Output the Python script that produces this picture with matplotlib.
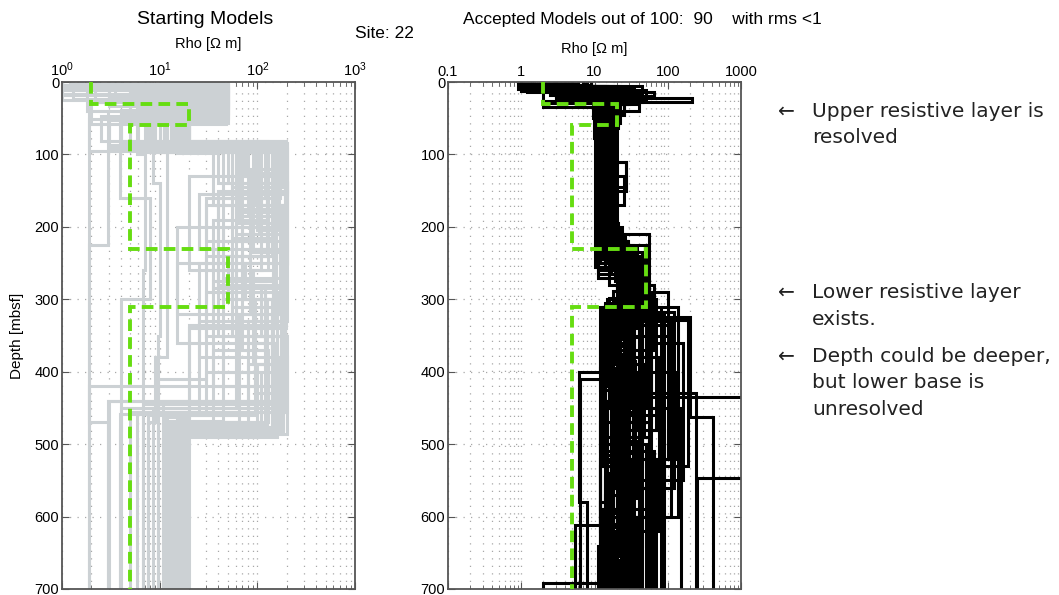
import matplotlib
matplotlib.use('Agg')
import matplotlib.pyplot as plt
from matplotlib.ticker import LogLocator, FixedLocator, FixedFormatter, NullFormatter

### DATA ###

# true model (layer tops in mbsf, resistivity in ohm m)
true_tops = [0, 30, 60, 230, 310]
true_rhos = [2, 20, 5, 50, 5]

# starting models: layer tops and resistivities
start_tops = [
  [0, 4, 45, 88, 150, 280, 470], [0, 11, 52, 92, 210, 330, 455],
  [0, 18, 38, 84, 130, 260, 390, 480], [0, 25, 56, 95, 175, 300, 440],
  [0, 7, 33, 86, 160, 240, 350, 485], [0, 14, 50, 90, 200, 320, 460],
  [0, 22, 41, 98, 140, 230, 370, 470], [0, 5, 47, 82, 190, 285, 420],
  [0, 16, 55, 94, 120, 250, 380, 478], [0, 9, 30, 89, 220, 310, 450],
  [0, 28, 58, 91, 170, 270, 400, 488], [0, 12, 36, 85, 145, 215, 340, 465],
  [0, 3, 44, 96, 260, 350, 455], [0, 20, 53, 83, 180, 300, 430, 482],
  [0, 10, 40, 93, 155, 230, 320, 475], [0, 26, 49, 87, 210, 290, 410],
  [0, 6, 31, 90, 125, 200, 300, 445], [0, 15, 57, 97, 185, 280, 370, 470],
  [0, 8, 42, 84, 135, 250, 360, 490], [0, 23, 46, 92, 170, 330, 460],
  [0, 13, 35, 88, 240, 300, 440], [0, 4, 51, 95, 160, 220, 390, 475],
  [0, 19, 39, 86, 150, 260, 350, 484], [0, 11, 54, 93, 195, 315, 450],
  [0, 27, 43, 81, 130, 210, 340, 468], [0, 8, 37, 90, 175, 275, 420, 480],
  [0, 17, 48, 97, 230, 320, 455], [0, 2, 29, 85, 140, 250, 300, 472],
  [0, 21, 56, 89, 160, 290, 380, 486], [0, 12, 45, 94, 205, 335, 462],
  [0, 6, 34, 82, 120, 240, 360, 476], [0, 24, 52, 91, 185, 270, 400, 458],
  [0, 10, 40, 87, 150, 235, 330, 483], [0, 16, 58, 95, 220, 310, 440],
  [0, 9, 32, 83, 170, 260, 390, 470], [0, 22, 47, 90, 145, 280, 350, 479],
  [0, 28], [0, 40, 225, 470], [0, 55, 160, 300, 480],
  [0, 35, 100, 260, 460], [0, 48, 140, 350], [0, 20, 90, 380, 470],
]
start_rhos = [
  [1.0, 48, 9, 160, 40, 120, 14], [1.0, 30, 18, 70, 185, 25, 12],
  [1.0, 45, 4, 200, 20, 90, 150, 17], [1.0, 35, 12, 110, 60, 190, 3],
  [45, 3, 20, 55, 140, 30, 175, 19], [8, 50, 6, 150, 15, 95, 11],
  [28, 12, 15, 40, 200, 70, 130, 13], [2, 40, 2.5, 125, 35, 180, 1.9],
  [15, 22, 10, 170, 85, 25, 165, 16], [1.5, 50, 5, 45, 155, 60, 4],
  [5, 2, 19, 95, 190, 45, 110, 20], [50, 6, 14, 185, 55, 150, 20, 15],
  [1.2, 25, 8, 130, 40, 200, 5], [3, 48, 17, 60, 145, 95, 175, 18],
  [38, 1.8, 11, 200, 25, 170, 65, 14], [12, 45, 3, 105, 195, 30, 9.6],
  [1.0, 18, 20, 75, 165, 45, 140, 6.7], [25, 50, 7, 190, 70, 120, 35, 12],
  [4, 30, 16, 140, 200, 15, 160, 19.5], [1.3, 42, 13, 35, 180, 80, 7.6],
  [20, 8, 18, 155, 50, 190, 10.8], [1.0, 38, 1.9, 120, 30, 175, 100, 13.5],
  [48, 25, 9, 200, 110, 55, 185, 17.5], [6, 44, 15, 65, 170, 140, 8.5],
  [2.2, 50, 4, 180, 60, 195, 45, 12.5], [30, 15, 19, 90, 150, 35, 170, 16.5],
  [1.0, 35, 10, 140, 85, 190, 5.8], [10, 45, 12, 50, 200, 75, 125, 14.5],
  [3.5, 28, 20, 170, 40, 160, 200, 18.5], [42, 5, 8, 100, 185, 20, 11.5],
  [1.6, 50, 17, 195, 125, 60, 150, 15.5], [18, 32, 3, 80, 175, 190, 30, 3.9],
  [50, 20, 14, 165, 90, 200, 140, 19], [7, 48, 11, 125, 55, 180, 2.95],
  [1.0, 40, 18, 190, 30, 145, 80, 13], [35, 10, 20, 60, 195, 110, 185, 16],
  [45, 1.9], [20, 2.95, 1.9, 2.95], [30, 3.9, 8, 4, 3.9],
  [12, 5.8, 7, 6.7, 6.7], [50, 8.5, 10, 9.6], [3, 7.6, 12, 9, 7.6],
]

# accepted models (rms < 1)
acc_tops = [
  [0, 8, 24, 58, 215, 300, 470], [0, 5, 14, 19, 32, 120, 260, 330, 520],
  [0, 10, 22, 27, 62, 230, 310, 600], [0, 6, 20, 45, 250, 320, 560],
  [0, 12, 30, 70, 110, 150, 240, 305, 410], [0, 9, 26, 55, 200, 290, 435, 547],
  [0, 7, 29, 50, 225, 325, 462], [0, 11, 25, 66, 260, 340, 692],
  [0, 4, 18, 40, 205, 300, 480], [0, 10, 28, 60, 130, 170, 265, 330],
  [0, 8, 26, 34, 230, 310, 450], [0, 13, 26, 68, 210, 285, 395, 612],
  [0, 6, 23, 56, 235, 318], [0, 15, 31, 72, 255, 335, 520],
  [0, 9, 27, 61, 140, 270, 330, 590], [0, 11, 22, 64, 218, 295, 430],
  [0, 7, 29, 58, 245, 305, 400, 580], [0, 10, 30, 66, 222, 318, 560],
  [0, 5, 21, 48, 190, 280, 370, 480], [0, 12, 28, 60, 110, 145, 250, 320, 500],
  [0, 8, 25, 53, 200, 300, 420, 640], [0, 14, 33, 78, 240, 310, 460],
  [0, 6, 24, 57, 180, 275, 360, 550], [0, 10, 27, 63, 228, 312, 510],
  [0, 9, 19, 44, 160, 265, 330, 600], [0, 12, 31, 69, 212, 302, 440],
  [0, 7, 22, 50, 250, 328, 530], [0, 11, 29, 62, 195, 288, 380, 620],
  [0, 5, 26, 54, 235, 300, 415], [0, 13, 30, 74, 220, 320, 470, 650],
  [0, 8, 23, 59, 242, 308, 490], [0, 10, 28, 65, 205, 290, 350, 560],
  [0, 6, 25, 51, 260, 336, 600], [0, 12, 27, 67, 215, 296, 400, 520],
  [0, 9, 32, 56, 230, 315, 450], [0, 11, 24, 60, 210, 305, 520, 610],
  [0, 9, 25, 60, 220, 300, 360, 450, 560], [0, 7, 27, 55, 240, 310, 380, 470, 620],
  [0, 11, 29, 64, 200, 290, 340, 430, 530, 640], [0, 6, 22, 50, 230, 305, 400, 500, 600],
  [0, 10, 26, 58, 250, 320, 410, 520], [0, 8, 30, 62, 215, 295, 370, 460, 580],
  [0, 12, 24, 66, 235, 315, 390, 490, 610], [0, 9, 28, 57, 225, 300, 350, 440, 540, 660],
  [0, 7, 23, 52, 245, 325, 420, 510], [0, 11, 27, 60, 210, 290, 360, 470, 590],
  [0, 10, 25, 63, 228, 310, 400, 480, 570], [0, 8, 29, 55, 238, 318, 380, 450, 530, 630],
  [0, 13, 31, 70, 205, 300, 390, 500, 650], [0, 6, 21, 49, 250, 330, 430, 540],
  [0, 9, 26, 59, 220, 305, 370, 460, 560, 660], [0, 12, 28, 67, 232, 312, 420, 530],
  [0, 7, 24, 54, 242, 322, 400, 490, 600], [0, 10, 30, 61, 212, 298, 350, 430, 520, 620],
  [0, 8, 27, 58, 225, 300, 345, 420, 505, 590, 670],
  [0, 10, 25, 62, 240, 315, 375, 445, 525, 615],
  [0, 7, 29, 54, 210, 295, 355, 435, 515, 595, 680],
  [0, 11, 26, 65, 235, 310, 385, 455, 535, 625],
  [0, 9, 24, 59, 220, 305, 365, 425, 495, 575, 655],
  [0, 12, 30, 63, 248, 325, 395, 465, 545, 635],
  [0, 6, 23, 52, 230, 300, 370, 440, 510, 600, 690],
  [0, 10, 28, 61, 215, 292, 352, 432, 512, 592, 672],
]
acc_rhos = [
  [1.0, 3, 15, 13, 22, 40, 25], [4, 9, 64, 20, 12, 18, 30, 55, 20],
  [2, 8, 215, 18, 11, 28, 140, 45], [8, 3, 25, 10.5, 33, 90, 15],
  [1.1, 30, 11, 14, 27, 13, 45, 25, 6.3], [6, 12, 19, 15, 20, 60, 1500, 250],
  [1.5, 20, 9.5, 16, 50, 200, 410], [3, 50, 13, 11, 38, 30, 2],
  [9, 2.5, 40, 12, 20, 70, 35], [0.9, 5, 21, 12, 25, 11, 40, 60],
  [7, 15, 2, 18, 30, 45, 150], [2.8, 35, 16, 12, 55, 20, 12, 5.4],
  [1.8, 10, 14, 13, 33, 17], [4.5, 25, 18, 10.3, 42, 100, 70],
  [1, 6, 12, 15, 11, 28, 55, 13], [3.5, 8, 21, 14, 22, 35, 240],
  [9, 2, 17, 12, 48, 22, 6.1, 8], [1.3, 18, 10, 20, 26, 120, 40],
  [5, 15, 12, 11, 16, 65, 25, 90], [2, 4, 19, 13, 27, 12, 36, 18, 50],
  [7, 30, 15, 17, 24, 15, 45, 11], [1.2, 12, 9.8, 14, 30, 80, 28],
  [3, 45, 20, 12, 19, 55, 160, 35], [6, 6, 13, 18, 38, 22, 65],
  [2.5, 20, 25, 11, 17, 45, 110, 20], [1.0, 10, 14, 15, 26, 30, 15],
  [4, 3, 18, 10.8, 35, 190, 55], [8, 25, 11, 13, 21, 18, 75, 30],
  [1.4, 8, 16, 19, 45, 35, 14], [2.2, 40, 12, 11, 29, 60, 25, 40],
  [5, 14, 20, 16, 40, 14, 45], [1.6, 4, 10.5, 12, 23, 100, 30, 60],
  [3.2, 22, 19, 14, 52, 40, 12], [7, 9, 13, 17, 24, 25, 130, 18],
  [2.6, 16, 22, 12, 35, 50, 80], [1.1, 28, 14, 15, 21, 28, 20, 16],
  [2, 10, 14, 13, 28, 18, 32, 15, 24], [3, 22, 11, 15, 36, 13, 22, 40, 19],
  [1.4, 8, 17, 12, 21, 26, 16, 30, 12, 20], [5, 18, 15, 11, 30, 35, 14, 26, 38],
  [2.4, 12, 20, 14, 44, 21, 12.5, 33], [1.2, 28, 13, 16, 25, 42, 27, 17, 12],
  [6, 5, 18, 12, 32, 19, 48, 23, 28], [3.8, 15, 12, 17, 34, 24, 13, 36, 16, 22],
  [1.7, 35, 16, 13, 40, 15, 29, 18], [4.2, 9, 19, 11, 24, 33, 18, 12, 26],
  [2.9, 20, 11.5, 15, 29, 12, 38, 21, 14], [5.5, 6, 14, 13, 37, 28, 16, 45, 27, 17],
  [1.9, 14, 12, 16, 23, 50, 22, 14, 31], [7.5, 26, 21, 12, 46, 17, 34, 24],
  [2.1, 11, 16, 14, 27, 14, 25, 19, 42, 15], [3.3, 45, 13, 11, 31, 22, 13, 28],
  [1.0, 7, 18, 15, 39, 32, 20, 55, 23], [4.8, 16, 10.5, 13, 22, 16, 42, 26, 12, 35],
  [2.3, 13, 15, 12, 30, 22, 15, 19, 28, 16, 21],
  [3.6, 17, 12, 14, 41, 17, 24, 14, 20, 13],
  [1.5, 9, 18, 11, 25, 30, 18, 23, 15, 32, 18],
  [4.4, 24, 14, 16, 33, 15, 36, 18, 24, 14],
  [2.7, 6, 20, 13, 28, 26, 12, 17, 37, 21, 13],
  [1.3, 20, 12, 15, 45, 13, 19, 29, 14, 25],
  [5.2, 14, 17, 12, 35, 19, 27, 12, 22, 18, 27],
  [2.0, 32, 11, 14, 23, 40, 21, 34, 17, 29, 15],
]

max_depth = 700
depth_ticks = [0, 100, 200, 300, 400, 500, 600, 700]
right_xticks = [0.1, 1, 10, 100, 1000]
right_xlabels = ['0.1', '1', '10', '100', '1000']

### STYLE ###

W, H = 1059, 595
plt.rcParams['font.family'] = ['Liberation Sans', 'DejaVu Sans']
plt.rcParams['mathtext.fontset'] = 'custom'
plt.rcParams['mathtext.rm'] = 'Liberation Sans'

gray = '#ccd1d4'
green = '#66dd11'
grid_color = '#a8a8a8'
spine_color = '#555555'

def fx(px):
  return px / W

def fy(py):
  return 1 - py / H

# Draw one set of layered models:
def draw_models(ax, tops, rhos, color, lw):
  for t, r in zip(tops, rhos):
    ax.stairs(r, t + [max_depth], orientation='horizontal', baseline=None,
              color=color, lw=lw, zorder=2)

# Axis styling shared by both panels:
def style_axis(ax):
  ax.set_xscale('log')
  ax.set_ylim(max_depth, 0)
  ax.set_yticks(depth_ticks)
  ax.xaxis.tick_top()
  ax.tick_params(which='both', direction='in', top=True, bottom=True,
                 left=True, right=True, labeltop=True, labelbottom=False,
                 labelsize=10.5, color=spine_color, pad=2)
  ax.tick_params(which='major', length=5)
  ax.tick_params(which='minor', length=3)
  ax.set_axisbelow(True)
  ax.grid(True, which='both', axis='x', color=grid_color, lw=0.9,
          linestyle=(0, (1, 5)))
  ax.grid(True, which='major', axis='y', color=grid_color, lw=0.9,
          linestyle=(0, (1, 5)))
  for s in ax.spines.values():
    s.set_color(spine_color)
    s.set_linewidth(1.3)

### FIGURE ###

fig = plt.figure(figsize=(W / 100, H / 100), dpi=100)
ax_bottom = fy(589)
ax_height = (589 - 82) / H
ax1 = fig.add_axes([fx(62), ax_bottom, (355 - 62) / W, ax_height])
ax2 = fig.add_axes([fx(448), ax_bottom, (741 - 448) / W, ax_height])

# Left: starting models
draw_models(ax1, start_tops, start_rhos, gray, 2.2)
ax1.stairs(true_rhos, true_tops + [max_depth], orientation='horizontal',
           baseline=None, color=green, lw=2.8, linestyle=(0, (3, 1.6)), zorder=3)
style_axis(ax1)
ax1.set_xlim(1, 1000)
ax1.xaxis.set_major_locator(LogLocator(base=10, numticks=10))
ax1.xaxis.set_minor_locator(LogLocator(base=10, subs=range(2, 10), numticks=10))
ax1.xaxis.set_minor_formatter(NullFormatter())

# Right: accepted models
draw_models(ax2, acc_tops, acc_rhos, 'black', 2.2)
ax2.stairs(true_rhos, true_tops + [max_depth], orientation='horizontal',
           baseline=None, color=green, lw=2.8, linestyle=(0, (3, 1.6)), zorder=3)
style_axis(ax2)
ax2.set_xlim(0.1, 1000)
ax2.xaxis.set_major_locator(FixedLocator(right_xticks))
ax2.xaxis.set_major_formatter(FixedFormatter(right_xlabels))
ax2.xaxis.set_minor_locator(LogLocator(base=10, subs=range(2, 10), numticks=10))
ax2.xaxis.set_minor_formatter(NullFormatter())

# Titles and labels
fig.text(fx(205), fy(24), 'Starting Models', ha='center', va='baseline', fontsize=14)
fig.text(fx(208), fy(48), 'Rho [\u03a9 m]', ha='center', va='baseline', fontsize=10.5)
fig.text(fx(355), fy(38), 'Site: 22', ha='left', va='baseline', fontsize=12.5)
fig.text(fx(463), fy(24), 'Accepted Models out of 100:  90    with rms <1',
         ha='left', va='baseline', fontsize=12.5)
fig.text(fx(594), fy(53), 'Rho [\u03a9 m]', ha='center', va='baseline', fontsize=10.5)
fig.text(fx(17), fy(336), 'Depth [mbsf]', ha='center', va='center',
         rotation=90, fontsize=11)

# Annotations
note_font = dict(family='DejaVu Sans', fontsize=14.5, color='#222222', va='baseline')
notes = [
  (117, True, 'Upper resistive layer is'),
  (143, False, 'resolved'),
  (298, True, 'Lower resistive layer'),
  (325, False, 'exists.'),
  (362, True, 'Depth could be deeper,'),
  (388, False, 'but lower base is'),
  (415, False, 'unresolved'),
]
for y, arrow, line in notes:
  if arrow:
    fig.text(fx(778), fy(y), '\u2190', **note_font)
  fig.text(fx(812), fy(y), line, **note_font)

fig.savefig('out.png', dpi=100)
